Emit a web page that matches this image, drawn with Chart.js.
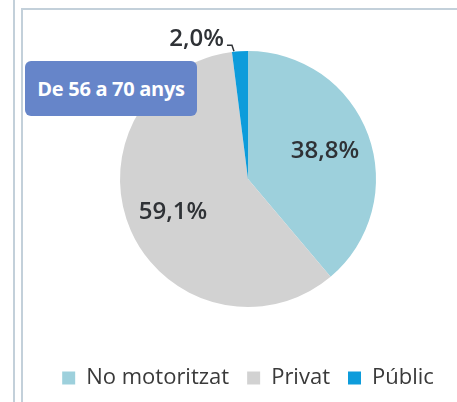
<!DOCTYPE html>
<html>
<head>
<meta charset="utf-8">
<script src="https://cdn.jsdelivr.net/npm/chart.js@4"></script>
<style>
  html, body { margin: 0; padding: 0; background: #fff; }
  #wrap { position: relative; width: 457px; height: 402px; overflow: hidden; }
  .vline { position: absolute; left: 13px; top: 0; width: 2px; height: 402px; background: #c3d0da; }
  .panel { position: absolute; left: 21px; top: 8px; width: 440px; height: 400px;
           border-left: 2px solid #c3d0da; border-top: 2px solid #c3d0da; }
  .badge { position: absolute; left: 25px; top: 61px; width: 172px; height: 55px;
           background: #6685c9; border-radius: 6px; color: #fff;
           font: bold 20px "Open Sans", sans-serif; line-height: 55px; text-align: center;
           letter-spacing: -0.3px; }
  canvas { position: absolute; left: 0; top: 0; }
</style>
</head>
<body>
<div id="wrap">
  <div class="vline"></div>
  <div class="panel"></div>
  <canvas id="pieChart" width="457" height="402"></canvas>
  <div class="badge">De 56 a 70 anys</div>
</div>
<script>
var categories = ['No motoritzat', 'Privat', 'Públic'];
var shares = [38.8, 59.1, 2.0];
var sliceColors = ['#9dd0dc', '#d2d2d2', '#0d9cdb'];

function fmt(v) {
    return v.toFixed(1).replace('.', ',') + '%';
}

// draws the percentages on (or next to) each slice
var sliceLabels = {
    id: 'sliceLabels',
    afterDatasetsDraw: function(chart) {
        var ctx = chart.ctx;
        var arcs = chart.getDatasetMeta(0).data;
        ctx.save();
        ctx.font = '600 24px "Open Sans", sans-serif';
        ctx.fillStyle = '#2f3236';
        ctx.textBaseline = 'middle';
        arcs.forEach(function(arc, i) {
            var mid = (arc.startAngle + arc.endAngle) / 2;
            var r = arc.outerRadius;
            var text = fmt(shares[i]);
            if (shares[i] < 5) {
                var ex = arc.x + Math.cos(mid) * r;
                var ey = arc.y + Math.sin(mid) * r;
                ctx.strokeStyle = '#2f3236';
                ctx.lineWidth = 1.5;
                ctx.beginPath();
                ctx.moveTo(ex - 6, ey);
                ctx.lineTo(ex - 8, ey - 6);
                ctx.lineTo(ex - 13, ey - 6);
                ctx.stroke();
                ctx.textAlign = 'right';
                ctx.fillText(text, ex - 16, ey - 12);
            } else {
                ctx.textAlign = 'center';
                var d = r * 0.64;
                ctx.fillText(text, arc.x + Math.cos(mid) * d, arc.y + Math.sin(mid) * d);
            }
        });
        ctx.restore();
    }
};

var ctx = document.getElementById('pieChart').getContext('2d');
var pieChart = new Chart(ctx, {
    type: 'pie',
    data: {
        labels: categories,
        datasets: [{
            data: shares,
            backgroundColor: sliceColors,
            borderWidth: 0
        }]
    },
    options: {
        responsive: false,
        animation: false,
        radius: 128,
        layout: { padding: { left: 39, top: 9, right: 0, bottom: 3 } },
        plugins: {
            legend: {
                position: 'bottom',
                labels: {
                    boxWidth: 13,
                    boxHeight: 13,
                    padding: 18,
                    color: '#3a3a3a',
                    font: { family: '"Open Sans", sans-serif', size: 22 }
                }
            },
            tooltip: { enabled: false }
        }
    },
    plugins: [sliceLabels]
});
</script>
</body>
</html>
